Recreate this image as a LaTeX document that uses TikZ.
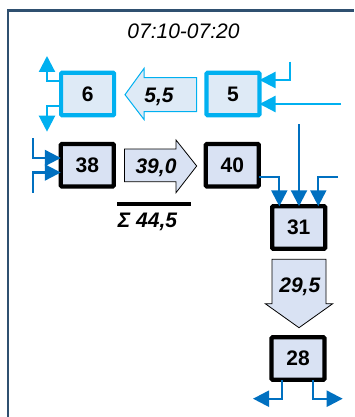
\documentclass[tikz,border=0pt]{standalone}
\usepackage{fontspec}
\setmainfont{Liberation Sans}
\usetikzlibrary{arrows.meta}
\definecolor{frameblue}{HTML}{2F5070}
\definecolor{lightb}{HTML}{00B0F0}
\definecolor{darkb}{HTML}{0070C0}
\definecolor{fillA}{HTML}{DEEAF6}
\definecolor{fillB}{HTML}{D9E2F3}
\tikzset{
  x=1pt,y=-1pt,
  basebox/.style={line width=4.2pt,rounded corners=1pt,minimum width=53pt,minimum height=42.5pt,inner sep=0pt,outer sep=0pt,font=\fontsize{21}{21}\selectfont\bfseries},
  lightbox/.style={basebox,draw=lightb,fill=fillA},
  darkbox/.style={basebox,draw=black,fill=fillB},
  lighttip/.style={draw=lightb,line width=2.2pt,-{Triangle[length=16pt,width=16pt]}},
  darktip/.style={draw=darkb,line width=2.2pt,-{Triangle[length=16pt,width=16pt]}},
  lab/.style={font=\fontsize{21}{21}\selectfont\bfseries\itshape,inner sep=0pt,text height=15pt,text depth=0pt},
}
\begin{document}
\begin{tikzpicture}
\useasboundingbox (0,0) rectangle (354,417);
\draw[frameblue,line width=2.2pt] (8.3,417) -- (8.3,10.5) -- (354,10.5);
\node[font=\fontsize{21}{21}\selectfont\itshape,inner sep=0pt] (title) at (183.5,31.5) {07:10-07:20};
\node[lightbox] (n6) at (87.6,94) {6};
\node[lightbox] (n5) at (233,94) {5};
\node[darkbox] (n38) at (87.3,165.2) {38};
\node[darkbox] (n40) at (232.3,165.2) {40};
\node[darkbox] (n31) at (298.7,227.5) {31};
\node[darkbox] (n28) at (298,358.5) {28};
\draw[lightb,fill=fillA,line width=1pt] (125,94.7) -- (144,68.5) -- (144,77.7) -- (196.7,77.7) -- (196.7,111.7) -- (144,111.7) -- (144,119.5) -- cycle;
\node[lab] (v55) at (159,95) {5,5};
\draw[black,fill=fillB,line width=0.8pt] (124.5,149) -- (176,149) -- (176,140) -- (196.7,166) -- (176,192.7) -- (176,181.7) -- (124.5,181.7) -- cycle;
\node[lab] (v39) at (156,165.5) {39,0};
\draw[black,fill=fillB,line width=0.8pt] (272,259.3) -- (326,259.3) -- (326,303.7) -- (332.7,303.7) -- (299,327.7) -- (265.3,303.7) -- (272,303.7) -- cycle;
\node[lab] (v29) at (299.8,285) {29,5};
\coordinate (sa) at (117.3,204);
\coordinate (sb) at (190.5,204);
\draw[black,line width=3.6pt] (sa) -- (sb);
\node[lab] (sum) at (147.5,220) {Σ 44,5};
% light arrows
\coordinate (a1) at (47,81); \coordinate (a2) at (47,56);
\draw[lighttip] (n6.west |- a1) -- (a1) -- (a2);
\coordinate (b1) at (47,106); \coordinate (b2) at (47,131.7);
\draw[lighttip] (n6.west |- b1) -- (b1) -- (b2);
\coordinate (c1) at (290.3,61.7); \coordinate (c2) at (290.3,80);
\draw[lighttip] (c1) -- (c2) -- (n5.east |- c2);
\coordinate (d1) at (341,104);
\draw[lighttip] (d1) -- (n5.east |- d1);
% dark arrows
\coordinate (e1) at (33,138); \coordinate (e2) at (33,158);
\draw[darktip] (e1) -- (e2) -- (n38.west |- e2);
\coordinate (f1) at (33,192.7); \coordinate (f2) at (33,172.5);
\draw[darktip] (f1) -- (f2) -- (n38.west |- f2);
\coordinate (g1) at (279.3,176.7);
\draw[darktip] (n40.east |- g1) -- (g1) -- (g1 |- n31.north);
\coordinate (h1) at (299,124);
\draw[darktip] (h1) -- (h1 |- n31.north);
\coordinate (i1) at (338,176.7); \coordinate (i2) at (318.3,176.7);
\draw[darktip] (i1) -- (i2) -- (i2 |- n31.north);
\coordinate (j0) at (282,380); \coordinate (j1) at (282,398.7); \coordinate (j2) at (253,398.7);
\draw[darktip] (j0) -- (j1) -- (j2);
\coordinate (k0) at (313,380); \coordinate (k1) at (313,398.7); \coordinate (k2) at (342.7,398.7);
\draw[darktip] (k0) -- (k1) -- (k2);
\end{tikzpicture}
\end{document}
